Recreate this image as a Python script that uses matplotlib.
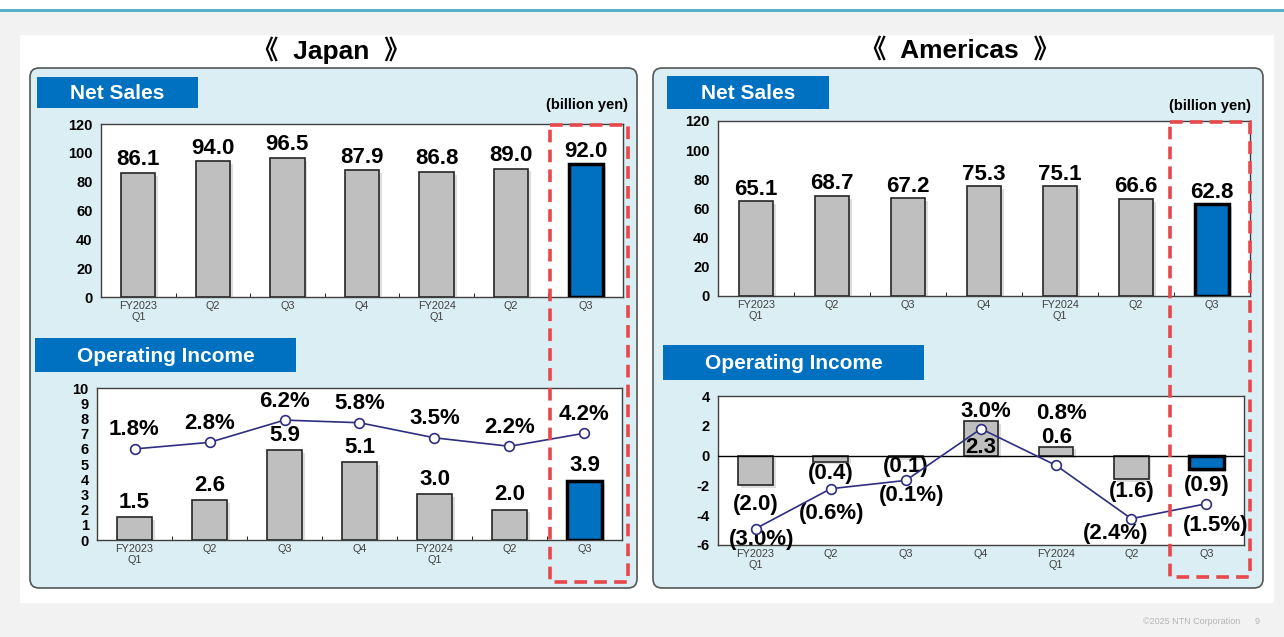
import matplotlib
matplotlib.use("Agg")
import matplotlib.pyplot as plt
import matplotlib.patheffects as pe
from matplotlib.patches import FancyBboxPatch, Rectangle

plt.rcParams['font.family'] = ['Liberation Sans', 'DejaVu Sans']
plt.rcParams['axes.unicode_minus'] = False

quarters = ["FY2023\nQ1", "Q2", "Q3", "Q4", "FY2024\nQ1", "Q2", "Q3"]

jp_sales = [86.1, 94.0, 96.5, 87.9, 86.8, 89.0, 92.0]
jp_income = [1.5, 2.6, 5.9, 5.1, 3.0, 2.0, 3.9]
jp_margin = [1.8, 2.8, 6.2, 5.8, 3.5, 2.2, 4.2]

am_sales = [65.1, 68.7, 67.2, 75.3, 75.1, 66.6, 62.8]
am_income = [-2.0, -0.4, -0.1, 2.3, 0.6, -1.6, -0.9]
am_margin = [-3.0, -0.6, -0.1, 3.0, 0.8, -2.4, -1.5]

W, H = 1284, 637
GRAY = "#bfbfbf"
BLUE = "#0070c0"
NAVY = "#2e2e80"
PANEL = "#dbeef4"
CJK = ['Liberation Sans', 'Noto Sans CJK JP']
VAL_SIZE = 16

# label offsets in pixels (dx, dy) for the Americas operating income chart
am_income_off = [(0, -19), (0, -12), (0, -9), (0, -26), (0, 9), (0, -12), (0, -16)]
am_margin_off = [(6, -11), (1, -25), (6, -15), (5, 17), (5, 52), (-16, -15), (9, -22)]


def rect(x0, y0, x1, y1):
    return [x0 / W, 1 - y1 / H, (x1 - x0) / W, (y1 - y0) / H]


def fmt(v, pct=False):
    s = f"{abs(v):.1f}" + ("%" if pct else "")
    return f"({s})" if v < 0 else s


def pt(px):
    return px * 72 / 100


fig = plt.figure(figsize=(W / 100, H / 100), dpi=100, facecolor="#f2f2f2")

# page decoration drawn in pixel coordinates
bg = fig.add_axes([0, 0, 1, 1], zorder=0)
bg.set_xlim(0, W)
bg.set_ylim(H, 0)
bg.axis("off")
bg.add_patch(Rectangle((0, 0), W, 9, color="white", lw=0))
bg.plot([0, W], [9.5, 9.5], color="#4bacc6", lw=2)
bg.add_patch(Rectangle((20, 35), 1254, 568, color="white", lw=0))
for x0, x1 in [(30, 637), (653, 1263)]:
    bg.add_patch(FancyBboxPatch((x0, 68), x1 - x0, 520,
                                boxstyle="round,pad=0,rounding_size=9",
                                fc=PANEL, ec="#555555", lw=1.2))
bg.text(331, 50, "《  Japan  》", ha="center", va="center", fontsize=19,
        fontweight="bold", family=CJK)
bg.text(960, 50, "《  Americas  》", ha="center", va="center", fontsize=19,
        fontweight="bold", family=CJK)
for (x0, y0, x1, y1), label in [((37, 77, 198, 108), "Net Sales"),
                                ((35, 338, 296, 372), "Operating Income"),
                                ((667, 76, 829, 109), "Net Sales"),
                                ((663, 345, 924, 380), "Operating Income")]:
    bg.add_patch(Rectangle((x0, y0), x1 - x0, y1 - y0, color=BLUE, lw=0))
    bg.text((x0 + x1) / 2, (y0 + y1) / 2 + 1, label, ha="center", va="center",
            color="white", fontsize=15, fontweight="bold")
bg.text(628, 105, "(billion yen)", ha="right", va="center", fontsize=10.5,
        fontweight="bold")
bg.text(1251, 106, "(billion yen)", ha="right", va="center", fontsize=10.5,
        fontweight="bold")
bg.text(1240, 621, "©2025 NTN Corporation", ha="right", va="center",
        fontsize=6.5, color="#b5b5b5")
bg.text(1257, 621, "9", ha="center", va="center", fontsize=6.5, color="#b5b5b5")

shadow = [pe.SimplePatchShadow(offset=(2, -2), shadow_rgbFace="#909090",
                               alpha=0.3), pe.Normal()]
xs = list(range(len(quarters)))
colors = [GRAY] * 6 + [BLUE]
edges = ["#262626"] * 6 + ["black"]
lws = [1.2] * 6 + [2.5]


def style_axis(ax, ylim, yticks):
    ax.set_xlim(-0.5, 6.5)
    ax.set_ylim(*ylim)
    ax.set_yticks(yticks)
    ax.set_xticks(xs)
    ax.set_xticklabels(quarters, fontsize=7.8, color="#404040", linespacing=1.1)
    ax.tick_params(axis="x", length=0, pad=3)
    ax.tick_params(axis="y", length=0, labelsize=10.5, pad=6)
    for lab in ax.get_yticklabels():
        lab.set_fontweight("bold")
    ax.set_xticks([i + 0.5 for i in range(6)], minor=True)
    ax.tick_params(axis="x", which="minor", length=3, direction="in")
    for s in ax.spines.values():
        s.set_color("#404040")
        s.set_linewidth(1.0)


def draw_bars(ax, vals):
    bars = ax.bar(xs, vals, width=0.46, color=colors, edgecolor=edges,
                  linewidth=1, zorder=3)
    for b, lw in zip(bars, lws):
        b.set_linewidth(lw)
        b.set_path_effects(shadow)
    return bars


# ---- Japan net sales
ax = fig.add_axes(rect(101, 124, 623, 297), zorder=2)
style_axis(ax, (0, 120), range(0, 121, 20))
draw_bars(ax, jp_sales)
for x, v in zip(xs, jp_sales):
    ax.annotate(fmt(v), (x, v), xytext=(0, pt(13)), textcoords="offset points",
                ha="center", va="center", fontsize=VAL_SIZE, fontweight="bold")

# ---- Japan operating income with margin line
ax = fig.add_axes(rect(97, 388, 622, 540), zorder=2)
style_axis(ax, (0, 10), range(0, 11))
draw_bars(ax, jp_income)
for x, v in zip(xs, jp_income):
    ax.annotate(fmt(v), (x, v), xytext=(0, pt(15)), textcoords="offset points",
                ha="center", va="center", fontsize=VAL_SIZE, fontweight="bold")
tw = ax.twinx()
tw.set_ylim(-12.1, 11.1)
tw.axis("off")
tw.plot(xs, jp_margin, color=NAVY, lw=1.2, marker="o", ms=7,
        mfc="white", mec=NAVY, mew=1.2, zorder=5)
for x, v in zip(xs, jp_margin):
    tw.annotate(fmt(v, True), (x, v), xytext=(0, pt(19)),
                textcoords="offset points", ha="center", va="center",
                fontsize=VAL_SIZE, fontweight="bold")

# ---- Americas net sales
ax = fig.add_axes(rect(718, 121, 1250, 296), zorder=2)
style_axis(ax, (0, 120), range(0, 121, 20))
draw_bars(ax, am_sales)
for x, v in zip(xs, am_sales):
    ax.annotate(fmt(v), (x, v), xytext=(0, pt(12)), textcoords="offset points",
                ha="center", va="center", fontsize=VAL_SIZE, fontweight="bold")

# ---- Americas operating income with margin line
ax = fig.add_axes(rect(718, 396, 1244, 545), zorder=2)
style_axis(ax, (-6, 4), range(-6, 5, 2))
ax.tick_params(axis="x", which="minor", length=0)
ax.axhline(0, color="black", lw=1.0, zorder=4)
draw_bars(ax, am_income)
for x, v, (dx, dy) in zip(xs, am_income, am_income_off):
    ax.annotate(fmt(v), (x, v), xytext=(pt(dx), pt(dy)),
                textcoords="offset points", ha="center", va="center",
                fontsize=VAL_SIZE, fontweight="bold", zorder=6)
tw = ax.twinx()
tw.set_ylim(-3.98, 4.97)
tw.axis("off")
tw.plot(xs, am_margin, color=NAVY, lw=1.2, marker="o", ms=7,
        mfc="white", mec=NAVY, mew=1.2, zorder=5)
for x, v, (dx, dy) in zip(xs, am_margin, am_margin_off):
    tw.annotate(fmt(v, True), (x, v), xytext=(pt(dx), pt(dy)),
                textcoords="offset points", ha="center", va="center",
                fontsize=VAL_SIZE, fontweight="bold")

# dashed highlight frames around the latest quarter
top = fig.add_axes([0, 0, 1, 1], zorder=10)
top.set_xlim(0, W)
top.set_ylim(H, 0)
top.axis("off")
for x0, y0, x1, y1 in [(550, 125, 628, 582), (1170, 122, 1250, 577)]:
    top.add_patch(Rectangle((x0, y0), x1 - x0, y1 - y0, fill=False,
                            ec="#e8474c", lw=2.6, ls=(0, (3.5, 2))))

fig.savefig("out.png", dpi=100, facecolor=fig.get_facecolor())
